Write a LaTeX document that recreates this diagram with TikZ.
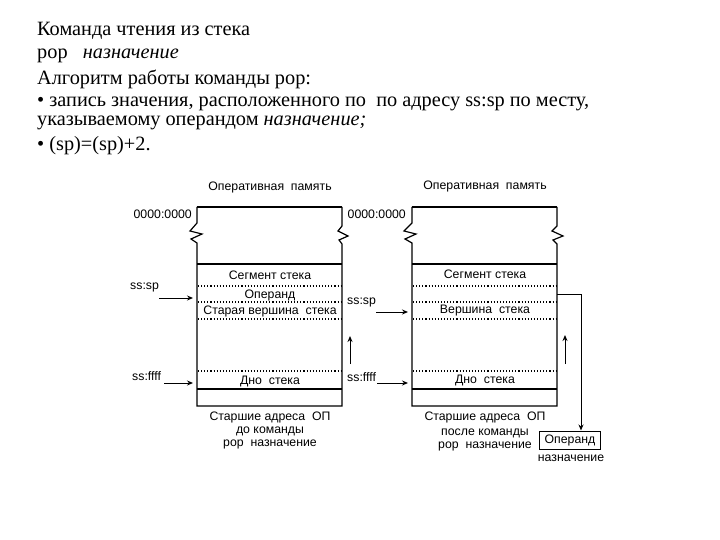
\documentclass[tikz,border=0pt]{standalone}
\usepackage{fontspec}
\setmainfont{Liberation Serif}
\newfontfamily\diagfont{Liberation Sans}
\usetikzlibrary{arrows.meta}
\tikzset{
  txt/.style={anchor=west, inner sep=0pt, font=\fontsize{20.3}{22}\selectfont},
  lbl/.style={inner sep=0pt, font=\diagfont\fontsize{12.3}{14}\selectfont},
  mem/.style={line width=1.2pt},
  sep/.style={line width=1.1pt, dotted},
  ptr/.style={-{Stealth[length=6pt,width=5pt]}, line width=1pt},
}
\begin{document}
\begin{tikzpicture}[x=1pt, y=-1pt]
  \useasboundingbox (0,0) rectangle (720,540);

  % текст
  \node[txt] (t1) at (37,31) {Команда чтения из стека};
  \node[txt] (t2) at (37,56) {pop\ \ \ \textit{назначение}};
  \node[txt] (t3) at (37,79) {Алгоритм работы команды pop:};
  \node[txt] (t4) at (37,104) {• запись значения, расположенного по\ \ по адресу ss:sp по месту,};
  \node[txt] (t5) at (37,123) {указываемому операндом \textit{назначение;}};
  \node[txt] (t6) at (37,146) {• (sp)=(sp)+2.};

  % левая память
  \draw[mem] (197,207) -- (342,207);
  \draw[mem] (197,207) -- (197,223) -- (190,231) -- (202,234) -- (191,239) -- (197,243) -- (197,406) -- (342,406)
    -- (342,244) -- (339,240) -- (348,236) -- (338,231) -- (342,226) -- (342,207);
  \draw[mem] (197,264) -- (342,264);
  \draw[mem] (197,389) -- (342,389);
  \foreach \y in {286, 302, 319, 371} {
    \draw[sep] (198,\y) -- (341,\y);
  }

  % правая память
  \draw[mem] (412,207) -- (557,207);
  \draw[mem] (412,207) -- (412,223) -- (404,231) -- (416,234) -- (405,239) -- (412,243) -- (412,406) -- (557,406)
    -- (557,244) -- (553,240) -- (563,236) -- (552,231) -- (557,226) -- (557,207);
  \draw[mem] (412,264) -- (557,264);
  \draw[mem] (412,389) -- (557,389);
  \foreach \y in {286, 302, 319, 371} {
    \draw[sep] (413,\y) -- (556,\y);
  }

  % подписи слева
  \node[lbl] (ram1) at (270,187) {Оперативная\ \ память};
  \node[lbl, anchor=east] (adr1) at (192,214) {0000:0000};
  \node[lbl] (seg1) at (270,275) {Сегмент стека};
  \node[lbl] (opd1) at (270,295) {Операнд};
  \node[lbl] (old1) at (270,311) {Старая вершина\ \ стека};
  \node[lbl] (bot1) at (270,381) {Дно\ \ стека};
  \node[lbl] (hi1) at (270,417) {Старшие адреса\ \ ОП};
  \node[lbl] (bef1) at (270,431) {до команды};
  \node[lbl] (cmd1) at (270,444) {pop\ \ назначение};
  \node[lbl, anchor=west] (sp1) at (130,287) {ss:sp};
  \node[lbl, anchor=west] (ff1) at (132,376) {ss:ffff};

  % подписи справа
  \node[lbl] (ram2) at (485,186) {Оперативная\ \ память};
  \node[lbl, anchor=east] (adr2) at (406,214) {0000:0000};
  \node[lbl] (seg2) at (485,274) {Сегмент стека};
  \node[lbl] (top2) at (485,311) {Вершина\ \ стека};
  \node[lbl] (bot2) at (485,380) {Дно\ \ стека};
  \node[lbl] (hi2) at (485,417) {Старшие адреса\ \ ОП};
  \node[lbl] (aft2) at (485,433) {после команды};
  \node[lbl] (cmd2) at (485,446) {pop\ \ назначение};
  \node[lbl, anchor=west] (sp2) at (347,302) {ss:sp};
  \node[lbl, anchor=west] (ff2) at (347,377) {ss:ffff};
  \node[lbl, draw, line width=1pt, minimum width=61pt, minimum height=18pt] (dst) at (570,440) {Операнд};
  \node[lbl] (dstn) at (571,458) {назначение};

  % стрелки
  \coordinate (e1) at (193,298);
  \coordinate (e2) at (193,383);
  \coordinate (e3) at (408,312);
  \coordinate (e4) at (408,383);
  \draw[ptr] (159,298) -- (e1);
  \draw[ptr] (164,383) -- (e2);
  \draw[ptr] (376,312) -- (e3);
  \draw[ptr] (377,383) -- (e4);
  \draw[ptr] (350,364) -- (350,336);
  \draw[ptr] (565,364) -- (565,335);
  \draw[ptr] (557,294) -- (581,294) -- (dst.north -| 581,0);
\end{tikzpicture}
\end{document}
